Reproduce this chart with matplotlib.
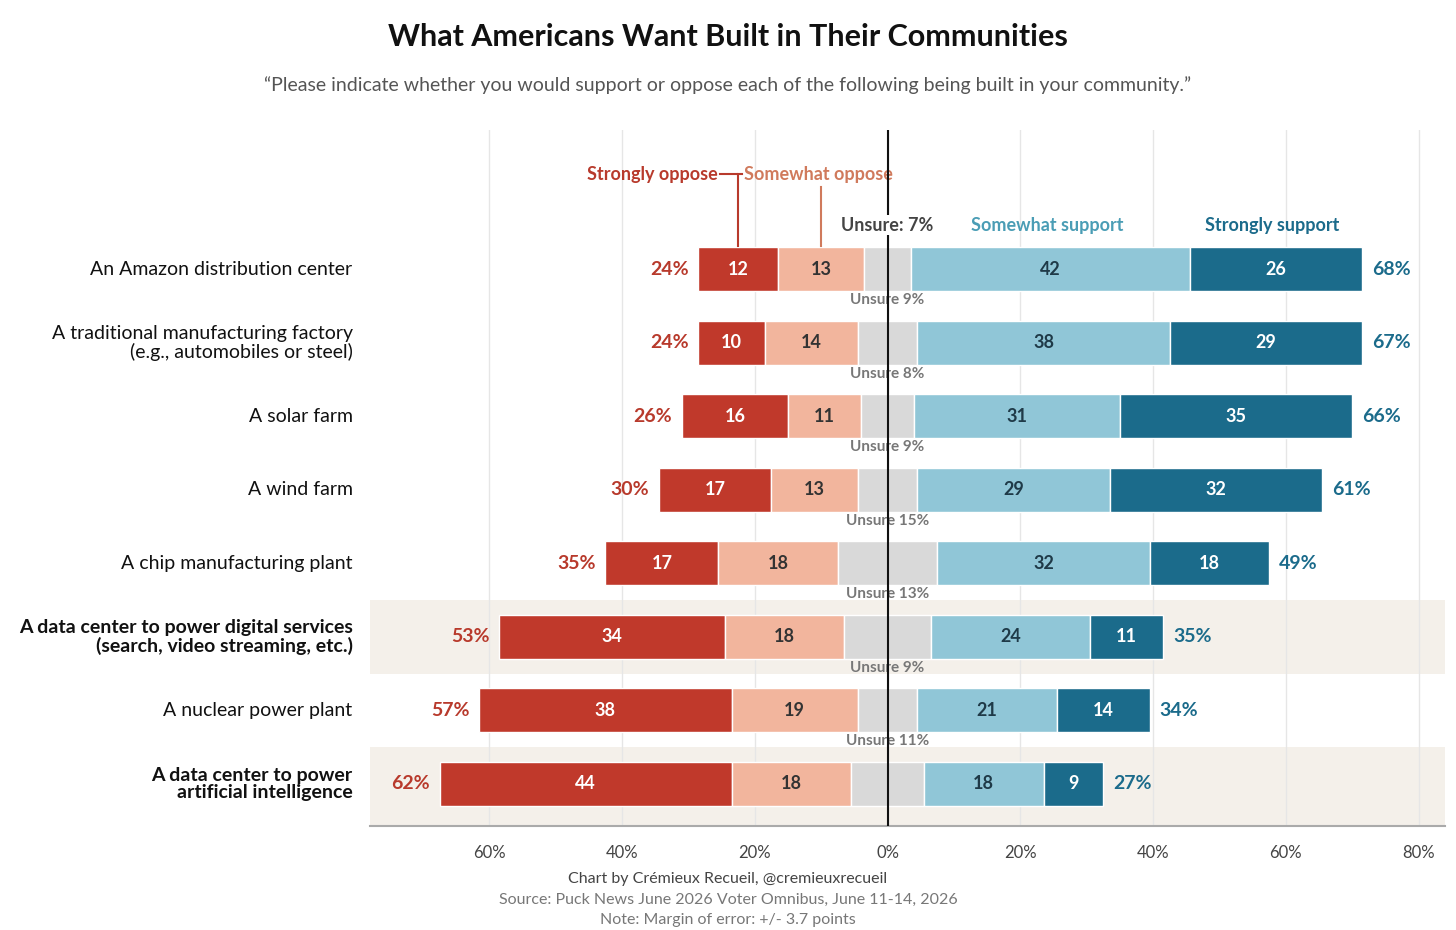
import numpy as np
import matplotlib.pyplot as plt
from matplotlib import transforms

plt.rcParams['font.family'] = ['Lato', 'DejaVu Sans']

items = ["An Amazon distribution center",
         "A traditional manufacturing factory\n(e.g., automobiles or steel)",
         "A solar farm", "A wind farm", "A chip manufacturing plant",
         "A data center to power digital services\n(search, video streaming, etc.)",
         "A nuclear power plant",
         "A data center to power\nartificial intelligence"]
strong_oppose = [12, 10, 16, 17, 17, 34, 38, 44]
some_oppose = [13, 14, 11, 13, 18, 18, 19, 18]
unsure = [7, 9, 8, 9, 15, 13, 9, 11]
some_support = [42, 38, 31, 29, 32, 24, 21, 18]
strong_support = [26, 29, 35, 32, 18, 11, 14, 9]
oppose_total = [24, 24, 26, 30, 35, 53, 57, 62]
support_total = [68, 67, 66, 61, 49, 35, 34, 27]
highlight = [5, 7]

c_so, c_mo, c_un, c_ms, c_ss = "#c0392b", "#f2b59d", "#d9d9d9", "#90c6d7", "#1b6b8b"
red_txt, blue_txt = "#b83a2c", "#1b6b8b"

fig = plt.figure(figsize=(14.56, 9.3), dpi=100)
ax = fig.add_axes([0.254, 0.112, 0.7385, 0.748])
ax.set_xlim(-78, 84)
ax.set_ylim(7.57, -1.89)

for i in highlight:
    ax.axhspan(i - 0.5, i + 0.5 if i < 7 else 7.57, color="#f4f0ea", zorder=0, lw=0)
for g in range(-60, 81, 20):
    ax.axvline(g, color="#e6e6e6", lw=1, zorder=0.5)

y = np.arange(len(items))
so = np.array(strong_oppose); mo = np.array(some_oppose); un = np.array(unsure)
ms = np.array(some_support); ss = np.array(strong_support)
h = 0.6
segs = [(-un / 2 - mo - so, so, c_so, "white"), (-un / 2 - mo, mo, c_mo, "#333333"),
        (-un / 2, un, c_un, None), (un / 2, ms, c_ms, "#1f3a48"), (un / 2 + ms, ss, c_ss, "white")]
for left, w, col, tc in segs:
    ax.barh(y, w, left=left, height=h, color=col, edgecolor="white", lw=1, zorder=2)
    if tc:
        for yi, l, wi in zip(y, left, w):
            ax.text(l + wi / 2, yi, str(wi), ha="center", va="center", color=tc,
                    fontsize=13, fontweight="bold", zorder=3)

for i in y:
    ax.text(-un[i] / 2 - mo[i] - so[i] - 1.5, i, f"{oppose_total[i]}%", ha="right", va="center",
            color=red_txt, fontsize=14, fontweight="bold")
    ax.text(un[i] / 2 + ms[i] + ss[i] + 1.5, i, f"{support_total[i]}%", ha="left", va="center",
            color=blue_txt, fontsize=14, fontweight="bold")
    if i > 0:
        ax.text(0, i - 0.58, f"Unsure {unsure[i]}%", ha="center", va="center", color="#777777",
                fontsize=11, fontweight="bold", zorder=3)

ax.axvline(0, color="#111111", lw=1.5, zorder=4)

# headers
ax.text(0, -0.6, f"Unsure: {unsure[0]}%", ha="center", va="center", color="#444444",
        fontsize=13, fontweight="bold", zorder=5,
        bbox=dict(facecolor="white", edgecolor="none", pad=1))
ax.text(24, -0.6, "Somewhat support", ha="center", va="center", color="#4a9db5",
        fontsize=13, fontweight="bold")
ax.text(58, -0.6, "Strongly support", ha="center", va="center", color=blue_txt,
        fontsize=13, fontweight="bold")
ax.text(-25.6, -1.29, "Strongly oppose", ha="right", va="center", color=red_txt,
        fontsize=13, fontweight="bold")
ax.text(-21.7, -1.29, "Somewhat oppose", ha="left", va="center", color="#d07a5c",
        fontsize=13, fontweight="bold")
ax.plot([-25.3, -22.5, -22.5], [-1.29, -1.29, -0.31], color=red_txt, lw=1.5)
ax.plot([-22.5, -22.0], [-1.29, -1.29], color=red_txt, lw=1.5)
ax.plot([-10, -10], [-1.12, -0.31], color="#d07a5c", lw=1.5)

trans = transforms.blended_transform_factory(ax.transAxes, ax.transData)
for i, lab in enumerate(items):
    ax.text(-0.016, i, lab, transform=trans, ha="right", va="center", fontsize=14,
            color="#111111", fontweight="bold" if i in highlight else "normal",
            linespacing=1.05)

ax.set_yticks([])
ax.set_xticks(range(-60, 81, 20))
ax.set_xticklabels([f"{abs(t)}%" for t in range(-60, 81, 20)], fontsize=12, color="#444444")
ax.tick_params(axis="x", length=0, pad=14)
for s in ["top", "left", "right"]:
    ax.spines[s].set_visible(False)
ax.spines["bottom"].set_color("#aaaaaa")
ax.spines["bottom"].set_linewidth(1.5)

fig.text(0.5, 0.96, "What Americans Want Built in Their Communities", ha="center", va="center",
         fontsize=22, fontweight="bold", color="#111111")
fig.text(0.5, 0.908, "\u201cPlease indicate whether you would support or oppose each of the following being built in your community.\u201d",
         ha="center", va="center", fontsize=14, color="#555555")
fig.text(0.5, 0.055, "Chart by Crémieux Recueil, @cremieuxrecueil", ha="center", va="center",
         fontsize=11.5, color="#444444")
fig.text(0.5, 0.032, "Source: Puck News June 2026 Voter Omnibus, June 11-14, 2026", ha="center",
         va="center", fontsize=11.5, color="#777777")
fig.text(0.5, 0.011, "Note: Margin of error: +/- 3.7 points", ha="center", va="center",
         fontsize=11.5, color="#777777")

fig.savefig("out.png", dpi=100, facecolor="white")
